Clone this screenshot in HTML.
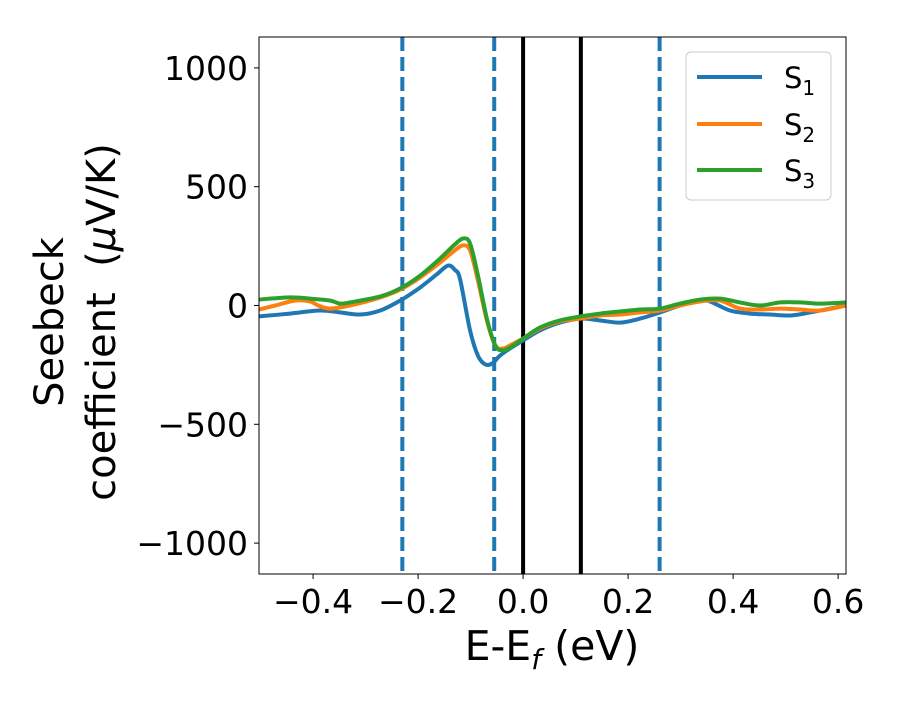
<!DOCTYPE html>
<html><head><meta charset="utf-8"><style>
body{margin:0;background:#fff}
svg text{font-family:"DejaVu Sans","Liberation Sans",sans-serif;fill:#000}
</style></head><body>
<svg id="chart" width="900" height="700" xmlns="http://www.w3.org/2000/svg">
<rect width="900" height="700" fill="#fff"/>
<g id="plot"></g>
</svg>
<script>
const xTicks=[-0.4,-0.2,0.0,0.2,0.4,0.6];
const xTickLabels=["\u22120.4","\u22120.2","0.0","0.2","0.4","0.6"];
const yTicks=[1000,500,0,-500,-1000];
const yTickLabels=["1000","500","0","\u2212500","\u22121000"];
const dashedLines=[-0.23,-0.055,0.26];
const solidLines=[0,0.11];
const e1=[-0.503,-0.444,-0.387,-0.349,-0.310,-0.272,-0.234,-0.196,-0.165,-0.143,-0.130,-0.120,-0.101,-0.086,-0.072,-0.059,-0.044,-0.025,0,0.032,0.070,0.109,0.147,0.185,0.223,0.261,0.299,0.337,0.356,0.394,0.432,0.470,0.509,0.547,0.585,0.615];
const s1=[-46,-34,-21,-29,-38,-21,21,76,130,168,150,110,-105,-211,-248,-244,-211,-181,-147,-105,-72,-55,-63,-72,-55,-29,0,21,17,-21,-34,-38,-42,-29,-13,0];
const e2=[-0.503,-0.472,-0.434,-0.406,-0.390,-0.368,-0.330,-0.272,-0.234,-0.196,-0.158,-0.130,-0.114,-0.101,-0.086,-0.069,-0.053,-0.038,-0.025,0,0.032,0.070,0.109,0.147,0.185,0.223,0.261,0.299,0.337,0.375,0.413,0.451,0.490,0.528,0.566,0.615];
const s2=[-17,0,21,17,0,-13,0,34,67,118,181,232,253,232,105,-63,-168,-181,-168,-139,-97,-67,-55,-42,-38,-29,-21,0,17,21,-13,-17,-13,-17,-21,0];
const e3=[-0.503,-0.444,-0.406,-0.368,-0.349,-0.330,-0.272,-0.234,-0.196,-0.158,-0.130,-0.114,-0.101,-0.086,-0.069,-0.053,-0.040,-0.025,0,0.032,0.070,0.109,0.147,0.185,0.223,0.261,0.299,0.337,0.375,0.413,0.451,0.490,0.528,0.566,0.615];
const s3=[25,34,29,21,8,13,38,72,126,198,257,282,261,126,-55,-168,-189,-177,-139,-93,-63,-46,-34,-25,-17,-13,8,25,29,13,0,13,13,8,13];
const X0=259,X1=846,Y0=37,Y1=574,xmin=-0.503,xmax=0.615,ymin=-1130,ymax=1130;
const sx=v=>X0+(v-xmin)/(xmax-xmin)*(X1-X0);
const sy=v=>Y1-(v-ymin)/(ymax-ymin)*(Y1-Y0);
const NS="http://www.w3.org/2000/svg";
const g=document.getElementById('plot');
function mk(t,a,p){const e=document.createElementNS(NS,t);for(const k in a)e.setAttribute(k,a[k]);(p||g).appendChild(e);return e;}
const clip=mk('clipPath',{id:'cp'});mk('rect',{x:X0,y:Y0,width:X1-X0,height:Y1-Y0},clip);
dashedLines.forEach(v=>{const l=mk('line',{x1:sx(v),x2:sx(v),y1:Y0,y2:Y1,stroke:'#1f77b4','stroke-width':4,'stroke-dasharray':'14 6'});

});
solidLines.forEach(v=>{const l=mk('line',{x1:sx(v),x2:sx(v),y1:Y0,y2:Y1,stroke:'#000','stroke-width':4});

});
function curve(es,ss){const p=es.map((e,i)=>[sx(e),sy(ss[i])]);
let d='M'+p[0][0]+','+p[0][1];
for(let i=0;i<p.length-1;i++){const a=p[i-1]||p[i],b=p[i],c=p[i+1],n=p[i+2]||c;
d+=` C${b[0]+(c[0]-a[0])/6},${b[1]+(c[1]-a[1])/6} ${c[0]-(n[0]-b[0])/6},${c[1]-(n[1]-b[1])/6} ${c[0]},${c[1]}`;}
return d;}
[[e1,s1,'#1f77b4','series-s1'],[e2,s2,'#ff7f0e','series-s2'],[e3,s3,'#2ca02c','series-s3']].forEach(([e,s,c,n])=>{
const p=mk('path',{d:curve(e,s),fill:'none',stroke:c,'stroke-width':4,'clip-path':'url(#cp)'});

});
const fr=mk('rect',{x:X0,y:Y0,width:X1-X0,height:Y1-Y0,fill:'none',stroke:'#000','stroke-width':1});


xTicks.forEach((v,i)=>{mk('line',{x1:sx(v),x2:sx(v),y1:Y1,y2:Y1+5,stroke:'#000'});
const t=mk('text',{x:sx(v),y:Y1+39,'text-anchor':'middle','font-size':33});t.textContent=xTickLabels[i];

});
yTicks.forEach((v,i)=>{mk('line',{x1:X0-5,x2:X0,y1:sy(v),y2:sy(v),stroke:'#000'});
const t=mk('text',{x:X0-11,y:sy(v)+12,'text-anchor':'end','font-size':33});t.textContent=yTickLabels[i];

});
</script>
<svg style="position:absolute;left:0;top:0" width="900" height="700" xmlns="http://www.w3.org/2000/svg">
<text x="552" y="660" text-anchor="middle" font-size="41">E-E<tspan font-size="28" dy="9" font-style="italic">f</tspan><tspan dy="-9"> (eV)</tspan></text>
<g transform="translate(63,322) rotate(-90)">
<text x="0" y="0" text-anchor="middle" font-size="40">Seebeck</text>
<text x="0" y="52" text-anchor="middle" font-size="40">coefficient&#160;&#160;(<tspan font-style="italic">μ</tspan>V/K)</text>
</g>
<g>
<rect x="686" y="52" width="145" height="148" rx="5" fill="#fff" fill-opacity="0.8" stroke="#ccc"/>
<g><line x1="697" x2="762" y1="77" y2="77" stroke="#1f77b4" stroke-width="4"/><text x="784" y="88" font-size="29">S<tspan font-size="20" dy="7">1</tspan></text></g>
<g><line x1="697" x2="762" y1="124" y2="124" stroke="#ff7f0e" stroke-width="4"/><text x="784" y="135" font-size="29">S<tspan font-size="20" dy="7">2</tspan></text></g>
<g><line x1="697" x2="762" y1="170" y2="170" stroke="#2ca02c" stroke-width="4"/><text x="784" y="181" font-size="29">S<tspan font-size="20" dy="7">3</tspan></text></g>
</g>
</svg>
</body></html>
